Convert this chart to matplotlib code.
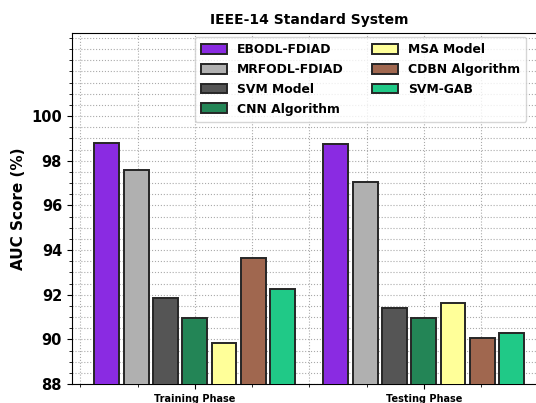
import matplotlib
matplotlib.use("Agg")
import matplotlib.pyplot as plt
import numpy as np
from matplotlib.ticker import MultipleLocator

phases = ["Training Phase", "Testing Phase"]
models = ["EBODL-FDIAD", "MRFODL-FDIAD", "SVM Model", "CNN Algorithm",
          "MSA Model", "CDBN Algorithm", "SVM-GAB"]
colors = ["#8A2BE2", "#B0B0B0", "#555555", "#238556", "#FFFF99", "#A0674F", "#20C987"]
values = {
    "EBODL-FDIAD":    [98.80, 98.75],
    "MRFODL-FDIAD":   [97.60, 97.06],
    "SVM Model":      [91.85, 91.42],
    "CNN Algorithm":  [90.95, 90.95],
    "MSA Model":      [89.86, 91.63],
    "CDBN Algorithm": [93.64, 90.06],
    "SVM-GAB":        [92.27, 90.30],
}

fig = plt.figure(figsize=(5.36, 4.03), dpi=100)
ax = fig.add_axes([0.134, 0.047, 0.886, 0.872])

x = np.arange(len(phases))
step = 0.128
width = 0.108
n = len(models)
for i, (m, c) in enumerate(zip(models, colors)):
    ax.bar(x + (i - (n - 1) / 2) * step, values[m], width, color=c,
           edgecolor="#262626", linewidth=1.4, label=m, zorder=3)

allv = [v for m in models for v in values[m]]
ax.set_ylim(88, max(allv) * 1.05)
ax.set_xlim(-0.537, 1.537)
ax.set_yticks(np.arange(88, 101, 2))
ax.yaxis.set_minor_locator(MultipleLocator(0.5))
ax.xaxis.set_minor_locator(MultipleLocator(0.25))
ax.set_xticks(x)
ax.set_xticklabels(phases, fontsize=7, fontweight="bold")
for lbl in ax.get_yticklabels():
    lbl.set_fontweight("bold")
    lbl.set_fontsize(10.5)
ax.grid(True, which="both", linestyle=":", color="#AAAAAA", linewidth=0.8, zorder=0)
ax.set_axisbelow(True)
ax.set_ylabel("AUC Score (%)", fontsize=11, fontweight="bold")
ax.set_title("IEEE-14 Standard System", fontsize=10, fontweight="bold")
ax.legend(ncol=2, loc="upper left", bbox_to_anchor=(195 / 536, 1 - 37 / 403),
          bbox_transform=fig.transFigure,
          prop={"weight": "bold", "size": 8.9},
          handlelength=2.1, handleheight=0.85, columnspacing=2.3,
          labelspacing=0.55, borderpad=0.5, borderaxespad=0)
fig.savefig("out.png", dpi=100)
